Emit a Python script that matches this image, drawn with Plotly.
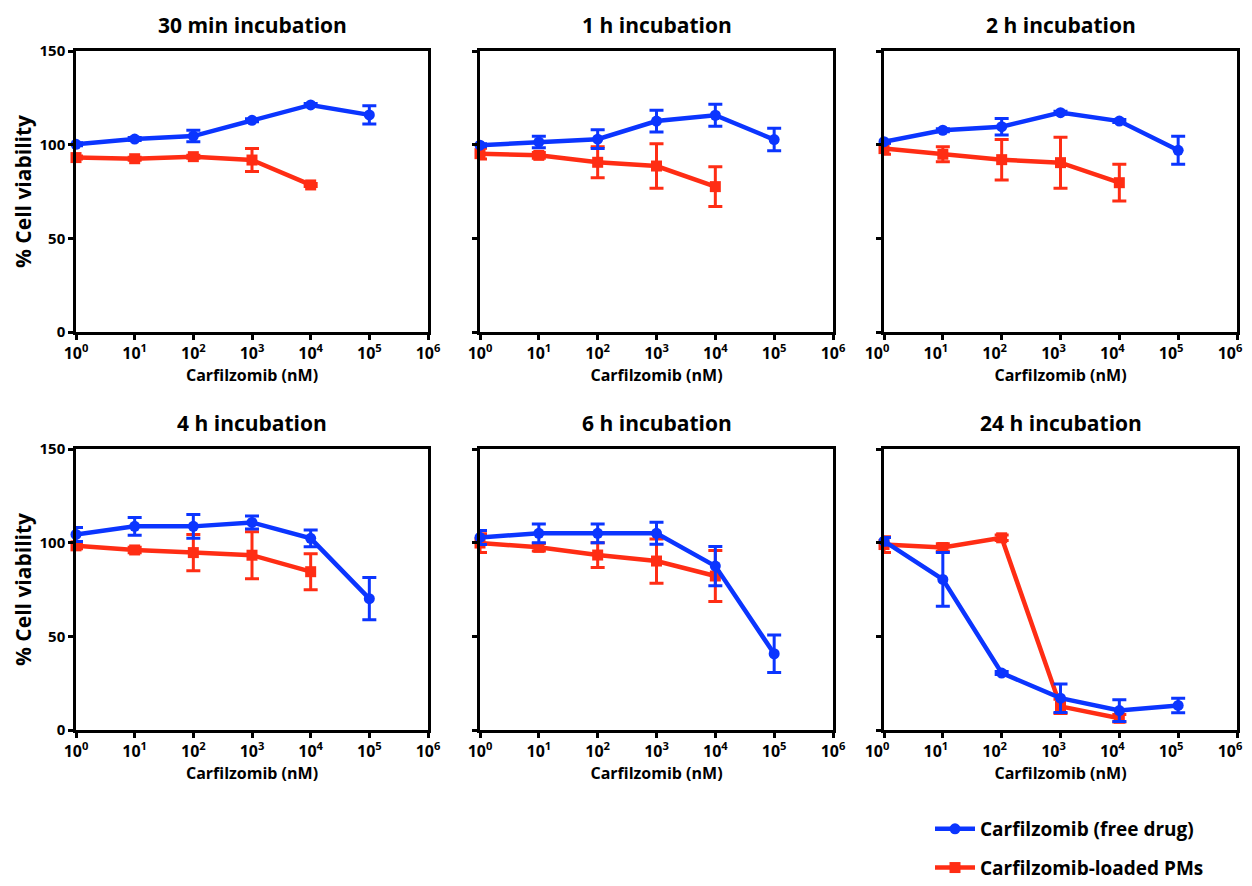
import plotly.graph_objects as go

# ---------------- data ----------------
conc = [1, 10, 100, 1000, 10000, 100000]
titles = ["30 min incubation", "1 h incubation", "2 h incubation",
          "4 h incubation", "6 h incubation", "24 h incubation"]

free_30m = [100.2, 103.0, 104.6, 113.0, 121.2, 115.9]
free_30m_err = [0.8, 0.8, 3.1, 0.8, 0.8, 4.9]
pm_30m = [93.1, 92.5, 93.6, 91.8, 78.5]
pm_30m_err = [0.8, 0.8, 0.8, 6.1, 0.8]

free_1h = [99.7, 101.4, 102.9, 112.6, 115.7, 102.7]
free_1h_err = [0.8, 3.1, 5.0, 5.8, 5.9, 6.0]
pm_1h = [95.2, 94.3, 90.6, 88.6, 77.6]
pm_1h_err = [2.9, 1.5, 8.3, 11.9, 10.6]

free_2h = [101.6, 107.7, 109.6, 117.1, 112.6, 97.0]
free_2h_err = [0.8, 0.8, 4.4, 0.8, 0.8, 7.5]
pm_2h = [97.9, 94.9, 92.0, 90.4, 79.7]
pm_2h_err = [3.0, 4.0, 10.8, 13.6, 9.8]

free_4h = [104.4, 108.7, 108.7, 110.8, 102.3, 70.1]
free_4h_err = [3.75, 4.7, 6.3, 3.5, 4.5, 11.3]
pm_4h = [98.3, 96.1, 94.7, 93.3, 84.5]
pm_4h_err = [1.5, 1.5, 9.7, 12.5, 9.6]

free_6h = [102.8, 105.0, 105.0, 105.0, 87.5, 40.7]
free_6h_err = [3.75, 5.0, 5.0, 5.9, 10.5, 10.0]
pm_6h = [99.8, 97.5, 93.4, 90.2, 82.2]
pm_6h_err = [5.0, 2.0, 6.6, 11.8, 13.6]

free_24h = [100.8, 80.4, 30.4, 17.0, 10.4, 13.1]
free_24h_err = [2.0, 14.3, 0.8, 7.6, 5.8, 3.9]
pm_24h = [99.0, 97.4, 102.6, 12.6, 6.3]
pm_24h_err = [4.2, 2.0, 1.5, 3.8, 2.0]

free_sets = [(free_30m, free_30m_err), (free_1h, free_1h_err), (free_2h, free_2h_err),
             (free_4h, free_4h_err), (free_6h, free_6h_err), (free_24h, free_24h_err)]
pm_sets = [(pm_30m, pm_30m_err), (pm_1h, pm_1h_err), (pm_2h, pm_2h_err),
           (pm_4h, pm_4h_err), (pm_6h, pm_6h_err), (pm_24h, pm_24h_err)]

x_tickvals = [1, 10, 100, 1000, 10000, 100000, 1000000]
x_ticktext = ["10<sup>0</sup>", "10<sup>1</sup>", "10<sup>2</sup>", "10<sup>3</sup>",
              "10<sup>4</sup>", "10<sup>5</sup>", "10<sup>6</sup>"]
y_tickvals = [0, 50, 100, 150]
series_names = ["Carfilzomib (free drug)", "Carfilzomib-loaded PMs"]

# ---------------- style ----------------
BLUE = "#0B35FF"
RED = "#FF2D14"
FONT = "Open Sans"
OFF = 8                     # page body margin
W, H = 1252 - OFF, 886 - OFF
col_px = [(76, 428), (480, 833), (884, 1237)]
row_px = [(51, 332), (449, 730)]


def fx(px):
    return (px - OFF) / W


def fy(py):
    return 1 - (py - OFF) / H


fig = go.Figure()
layout = dict(
    width=W, height=H, margin=dict(l=0, r=0, t=0, b=0, autoexpand=False),
    paper_bgcolor="white", plot_bgcolor="white",
    font=dict(family=FONT, color="black", weight="bold"),
    showlegend=True,
    legend=dict(x=fx(930), y=fy(810), xanchor="left", yanchor="top",
                font=dict(size=19, family=FONT, weight="bold", color="black"),
                traceorder="grouped", tracegroupgap=11, itemwidth=40,
                bgcolor="rgba(0,0,0,0)"),
)
annotations = []

for i in range(6):
    r, c = divmod(i, 3)
    k = "" if i == 0 else str(i + 1)
    xa, ya = "x" + k, "y" + k
    x0, x1 = col_px[c]
    y0, y1 = row_px[r]
    layout["xaxis" + k] = dict(
        domain=[fx(x0), fx(x1)], anchor=ya, type="log", range=[0, 6],
        tickvals=x_tickvals, ticktext=x_ticktext, ticks="outside", ticklen=5,
        tickwidth=2.5, tickcolor="black", showline=True, linewidth=2.5,
        linecolor="black", mirror=True, showgrid=False, zeroline=False,
        automargin=False, ticklabelshift=(-7 if c == 2 else 0),
        tickfont=dict(size=16, family=FONT, weight="bold"),
        title=dict(text="Carfilzomib (nM)", standoff=4,
                   font=dict(size=16, family=FONT, weight="bold")),
    )
    layout["yaxis" + k] = dict(
        domain=[fy(y1), fy(y0)], anchor=xa, range=[0, 150],
        tickvals=y_tickvals, ticks="outside", ticklen=5, tickwidth=2.5,
        tickcolor="black", showline=True, linewidth=2.5, linecolor="black",
        mirror=True, showgrid=False, zeroline=False, showticklabels=(c == 0),
        automargin=False,
        tickfont=dict(size=15, family=FONT, weight="bold"),
        title=dict(text="% Cell viability" if c == 0 else "", standoff=3,
                   font=dict(size=21, family=FONT, weight="bold")),
    )
    annotations.append(dict(
        text=titles[i], xref="paper", yref="paper",
        x=(fx(x0) + fx(x1)) / 2, y=fy(y0 - 26), xanchor="center",
        yanchor="middle", showarrow=False,
        font=dict(size=21, family=FONT, weight="bold", color="black")))

    pv, pe = pm_sets[i]
    fig.add_trace(go.Scatter(
        x=conc[:len(pv)], y=pv, xaxis=xa, yaxis=ya, mode="lines+markers",
        name=series_names[1], legendgroup="pm", legendrank=2, showlegend=(i == 0),
        line=dict(color=RED, width=4.5), cliponaxis=False,
        marker=dict(symbol="square", size=11, color=RED),
        error_y=dict(type="data", array=pe, color=RED, thickness=3, width=7)))
    fv, fe = free_sets[i]
    fig.add_trace(go.Scatter(
        x=conc[:len(fv)], y=fv, xaxis=xa, yaxis=ya, mode="lines+markers",
        name=series_names[0], legendgroup="free", legendrank=1, showlegend=(i == 0),
        line=dict(color=BLUE, width=4.5), cliponaxis=False,
        marker=dict(symbol="circle", size=11, color=BLUE),
        error_y=dict(type="data", array=fe, color=BLUE, thickness=3, width=7)))

layout["annotations"] = annotations
fig.update_layout(**layout)
fig.write_html("out.html")
